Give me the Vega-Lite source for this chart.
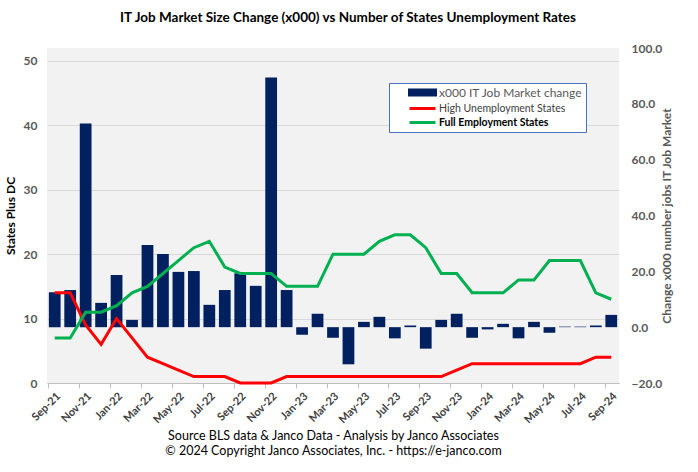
{
  "$schema": "https://vega.github.io/schema/vega-lite/v6.json",
  "width": 572,
  "height": 335,
  "autosize": {"type": "none"},
  "padding": {"left": 47, "top": 48, "right": 79, "bottom": 89},
  "background": "white",
  "config": {"view": {"fill": "#F2F2F2", "stroke": null}, "font": "Lato"},
  "title": {"text": "IT Job Market Size Change (x000)  vs Number of States Unemployment Rates", "fontSize": 13.5, "fontWeight": "bold", "color": "black", "dx": 15, "offset": 18, "font": "Lato"},
  "data": {"values": [
    {"month": "Sep-21", "jobs": 12.5, "high": 14, "full": 7},
    {"month": "Oct-21", "jobs": 13.3, "high": 14, "full": 7},
    {"month": "Nov-21", "jobs": 73.0, "high": 9, "full": 11},
    {"month": "Dec-21", "jobs": 8.7, "high": 6, "full": 11},
    {"month": "Jan-22", "jobs": 18.7, "high": 10, "full": 12},
    {"month": "Feb-22", "jobs": 2.6, "high": 7, "full": 14},
    {"month": "Mar-22", "jobs": 29.4, "high": 4, "full": 15},
    {"month": "Apr-22", "jobs": 26.2, "high": 3, "full": 17},
    {"month": "May-22", "jobs": 19.8, "high": 2, "full": 19},
    {"month": "Jun-22", "jobs": 20.1, "high": 1, "full": 21},
    {"month": "Jul-22", "jobs": 8.0, "high": 1, "full": 22},
    {"month": "Aug-22", "jobs": 13.3, "high": 1, "full": 18},
    {"month": "Sep-22", "jobs": 19.3, "high": 0, "full": 17},
    {"month": "Oct-22", "jobs": 14.8, "high": 0, "full": 17},
    {"month": "Nov-22", "jobs": 89.4, "high": 0, "full": 17},
    {"month": "Dec-22", "jobs": 13.3, "high": 1, "full": 15},
    {"month": "Jan-23", "jobs": -2.7, "high": 1, "full": 15},
    {"month": "Feb-23", "jobs": 4.8, "high": 1, "full": 15},
    {"month": "Mar-23", "jobs": -3.8, "high": 1, "full": 20},
    {"month": "Apr-23", "jobs": -13.3, "high": 1, "full": 20},
    {"month": "May-23", "jobs": 1.9, "high": 1, "full": 20},
    {"month": "Jun-23", "jobs": 3.7, "high": 1, "full": 22},
    {"month": "Jul-23", "jobs": -4.0, "high": 1, "full": 23},
    {"month": "Aug-23", "jobs": 0.6, "high": 1, "full": 23},
    {"month": "Sep-23", "jobs": -7.7, "high": 1, "full": 21},
    {"month": "Oct-23", "jobs": 2.6, "high": 1, "full": 17},
    {"month": "Nov-23", "jobs": 4.8, "high": 2, "full": 17},
    {"month": "Dec-23", "jobs": -3.8, "high": 3, "full": 14},
    {"month": "Jan-24", "jobs": -0.8, "high": 3, "full": 14},
    {"month": "Feb-24", "jobs": 1.2, "high": 3, "full": 14},
    {"month": "Mar-24", "jobs": -4.0, "high": 3, "full": 16},
    {"month": "Apr-24", "jobs": 1.9, "high": 3, "full": 16},
    {"month": "May-24", "jobs": -2.0, "high": 3, "full": 19},
    {"month": "Jun-24", "jobs": 0.2, "high": 3, "full": 19},
    {"month": "Jul-24", "jobs": 0.2, "high": 3, "full": 19},
    {"month": "Aug-24", "jobs": 0.6, "high": 4, "full": 14},
    {"month": "Sep-24", "jobs": 4.4, "high": 4, "full": 13}
  ]},
  "encoding": {
    "x": {
      "field": "month",
      "type": "ordinal",
      "scale": {
        "domain": ["Sep-21","Oct-21","Nov-21","Dec-21","Jan-22","Feb-22","Mar-22","Apr-22","May-22","Jun-22","Jul-22","Aug-22","Sep-22","Oct-22","Nov-22","Dec-22","Jan-23","Feb-23","Mar-23","Apr-23","May-23","Jun-23","Jul-23","Aug-23","Sep-23","Oct-23","Nov-23","Dec-23","Jan-24","Feb-24","Mar-24","Apr-24","May-24","Jun-24","Jul-24","Aug-24","Sep-24"],
        "paddingInner": 0.24,
        "paddingOuter": 0.12
      },
      "axis": {
        "values": ["Sep-21","Nov-21","Jan-22","Mar-22","May-22","Jul-22","Sep-22","Nov-22","Jan-23","Mar-23","May-23","Jul-23","Sep-23","Nov-23","Jan-24","Mar-24","May-24","Jul-24","Sep-24"],
        "bandPosition": 0,
        "labelAngle": -45,
        "labelFontSize": 11,
        "labelFontWeight": "bold",
        "labelColor": "#404040",
        "labelPadding": 2,
        "tickColor": "#BFBFBF",
        "tickSize": 5,
        "domainColor": "#BFBFBF",
        "grid": false,
        "title": ["Source BLS data & Janco Data  - Analysis  by Janco  Associates", "© 2024 Copyright Janco Associates, Inc. - https://e-janco.com"],
        "titleFontSize": 12.5,
        "titleFontWeight": "normal",
        "titleColor": "black",
        "titlePadding": 5,
        "titleLineHeight": 15
      }
    }
  },
  "layer": [
    {
      "mark": {"type": "bar"},
      "encoding": {
        "y": {
          "field": "jobs",
          "type": "quantitative",
          "scale": {"domain": [-20, 100], "nice": false},
          "axis": {
            "orient": "right",
            "values": [-20, 0, 20, 40, 60, 80, 100],
            "format": ".1f",
            "grid": false,
            "domain": false,
            "ticks": false,
            "labelPadding": 12,
            "labelColor": "#595959",
            "labelFontWeight": "bold",
            "labelFontSize": 12,
            "title": "Change x000 number jobs IT Job Market",
            "titleColor": "#595959",
            "titleFontSize": 12,
            "titleFontWeight": "bold",
            "titleAngle": -90,
            "titlePadding": 12
          }
        },
        "color": {
          "datum": "jobs",
          "type": "nominal",
          "title": null,
          "scale": {"domain": ["jobs", "high", "full"], "range": ["#002060", "#FF0000", "#00B050"]},
          "legend": {
            "orient": "none",
            "legendX": 342,
            "legendY": 35,
            "title": null,
            "fillColor": "white",
            "strokeColor": "#4472C4",
            "padding": 3,
            "rowPadding": 1,
            "symbolSize": 100,
            "symbolOffset": 24,
            "labelOffset": 10,
            "labelFontSize": 12,
            "labelLimit": 300,
            "labelExpr": "datum.value == 'jobs' ? 'x000 IT Job Market change' : datum.value == 'high' ? 'High Unemployment States' : 'Full Employment States'",
            "encode": {
              "symbols": {"update": {
                "shape": {"signal": "datum.value == 'jobs' ? 'M-2.6,-0.5H2.6V0.5H-2.6Z' : 'M-2.6,0H2.6'"},
                "fill": {"signal": "datum.value == 'jobs' ? '#002060' : 'transparent'"},
                "stroke": {"signal": "datum.value == 'jobs' ? 'transparent' : (datum.value == 'high' ? '#FF0000' : '#00B050')"},
                "strokeWidth": {"value": 3},
                "opacity": {"value": 1}
              }},
              "labels": {"update": {
                "fill": {"signal": "datum.value == 'jobs' ? '#595959' : datum.value == 'high' ? '#404040' : '#000000'"},
                "fontWeight": {"signal": "datum.value == 'full' ? 'bold' : 'normal'"},
                "fontSize": {"signal": "datum.value == 'jobs' ? 12 : 10.5"}
              }}
            }
          }
        }
      }
    },
    {
      "transform": [{"fold": ["high", "full"], "as": ["series", "value"]}],
      "mark": {"type": "line", "strokeWidth": 3},
      "encoding": {
        "y": {
          "field": "value",
          "type": "quantitative",
          "scale": {"domain": [0, 52], "nice": false},
          "axis": {
            "orient": "left",
            "values": [0, 10, 20, 30, 40, 50],
            "grid": true,
            "gridColor": "#D9D9D9",
            "domain": false,
            "ticks": false,
            "labelPadding": 10,
            "labelColor": "#595959",
            "labelFontWeight": "bold",
            "labelFontSize": 12,
            "title": "States Plus DC",
            "titleColor": "black",
            "titleFontSize": 12,
            "titleFontWeight": "bold",
            "titlePadding": 6
          }
        },
        "color": {"field": "series", "type": "nominal", "title": null}
      }
    }
  ],
  "resolve": {"scale": {"y": "independent"}}
}
